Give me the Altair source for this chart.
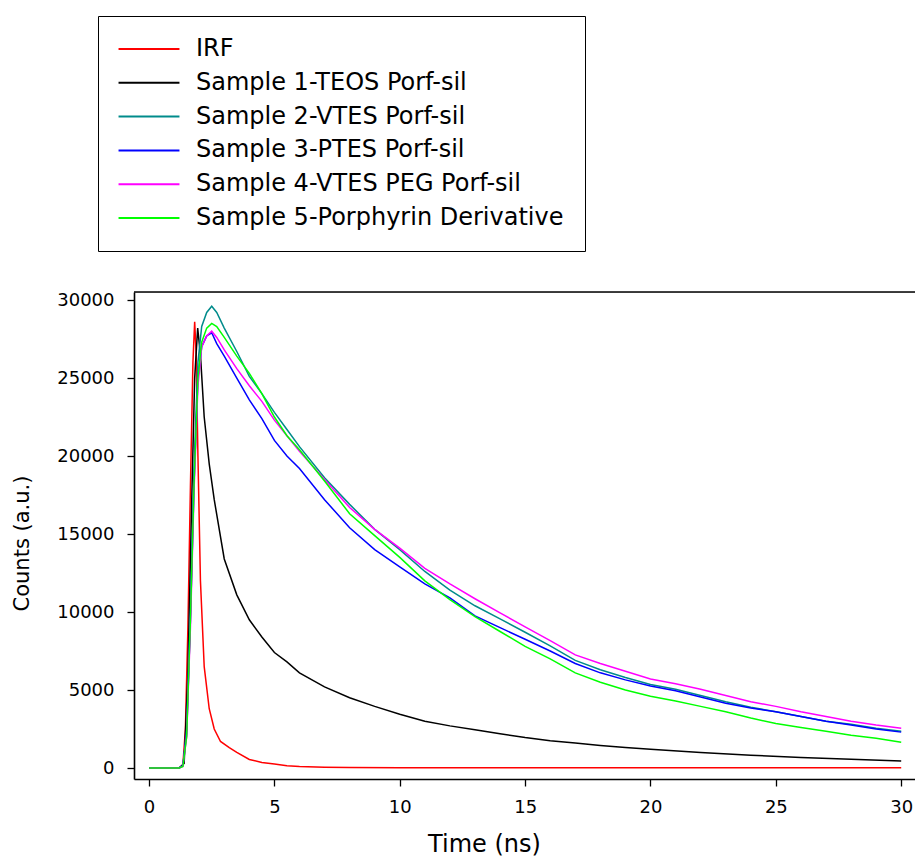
import altair as alt
import pandas as pd

series_names = [
    "IRF",
    "Sample 1-TEOS Porf-sil",
    "Sample 2-VTES Porf-sil",
    "Sample 3-PTES Porf-sil",
    "Sample 4-VTES PEG Porf-sil",
    "Sample 5-Porphyrin Derivative",
]
series_colors = ["#FF0000", "#000000", "#008B8B", "#0000FF", "#FF00FF", "#00FF00"]

irf_t = [0, 1.2, 1.35, 1.45, 1.55, 1.65, 1.75, 1.82, 1.88, 1.95, 2.05, 2.2, 2.4, 2.6,
         2.85, 3.2, 3.5, 4.0, 4.5, 5.0, 5.5, 6, 7, 8, 10, 15, 20, 25, 30]
irf_counts = [0, 0, 200, 2500, 9000, 18000, 26000, 28600, 26500, 20000, 12000, 6500, 3800, 2500,
              1700, 1300, 1000, 550, 350, 250, 150, 90, 50, 30, 20, 10, 10, 10, 10]

s1_t = [0, 1.2, 1.4, 1.55, 1.7, 1.82, 1.94, 2.05, 2.2, 2.4, 2.6, 3.0, 3.5, 4.0, 4.5, 5.0, 5.5,
        6, 7, 8, 9, 10, 11, 12, 13, 14, 15, 16, 17, 18, 19, 20, 22, 24, 26, 28, 30]
s1_counts = [0, 0, 300, 6000, 17000, 25000, 28200, 26500, 22500, 19500, 17200, 13400, 11100, 9500,
             8400, 7400, 6800, 6100, 5200, 4500, 3950, 3450, 3000, 2700, 2450, 2200, 1950, 1750,
             1600, 1450, 1320, 1200, 1000, 820, 680, 560, 450]

sample_t = [0, 1.2, 1.35, 1.5, 1.65, 1.8, 1.95, 2.1, 2.3, 2.5, 2.7, 3.0, 3.5, 4, 4.5, 5, 5.5, 6,
            7, 8, 9, 10, 11, 12, 13, 14, 15, 16, 17, 18, 19, 20, 21, 22, 23, 24, 25, 26, 27, 28,
            29, 30]
s2_counts = [0, 0, 150, 2500, 10000, 19500, 26000, 28300, 29200, 29600, 29200, 28200, 26700, 25100,
             24000, 22800, 21700, 20600, 18600, 16900, 15300, 14000, 12600, 11400, 10400, 9560,
             8700, 7830, 6900, 6300, 5800, 5350, 5050, 4650, 4250, 3900, 3600, 3300, 3000, 2800,
             2550, 2350]
s3_counts = [0, 0, 150, 2200, 9500, 18500, 25000, 27000, 27700, 27900, 27200, 26400, 25000, 23600,
             22400, 21000, 20000, 19200, 17200, 15400, 14000, 12900, 11800, 10900, 9750, 9000,
             8250, 7500, 6700, 6100, 5650, 5250, 4950, 4550, 4150, 3850, 3600, 3300, 3000, 2750,
             2500, 2300]
s4_counts = [0, 0, 100, 2000, 9000, 18000, 24500, 27000, 27700, 28000, 27600, 26800, 25600, 24500,
             23500, 22300, 21300, 20300, 18500, 16700, 15300, 14100, 12800, 11800, 10850, 9940,
             9050, 8160, 7250, 6700, 6200, 5700, 5400, 5050, 4650, 4250, 3950, 3600, 3300, 3000,
             2750, 2550]
s5_counts = [0, 0, 100, 2000, 9500, 18500, 25000, 27300, 28200, 28500, 28300, 27600, 26400, 25300,
             24000, 22500, 21300, 20400, 18400, 16300, 14900, 13500, 12000, 10800, 9700, 8750,
             7800, 7000, 6100, 5500, 5000, 4600, 4300, 3950, 3600, 3200, 2850, 2600, 2350, 2100,
             1900, 1650]

x_ticks = [0, 5, 10, 15, 20, 25, 30]
y_ticks = [0, 5000, 10000, 15000, 20000, 25000, 30000]

frames = []
pairs = [(irf_t, irf_counts), (s1_t, s1_counts), (sample_t, s2_counts),
         (sample_t, s3_counts), (sample_t, s4_counts), (sample_t, s5_counts)]
for i, (name, (ts, cs)) in enumerate(zip(series_names, pairs)):
    frames.append(pd.DataFrame({"t": ts, "counts": cs, "series": name, "k": i}))
df = pd.concat(frames, ignore_index=True)

FONT = "DejaVu Sans"

lines = alt.Chart(df).mark_line(strokeWidth=1.5, clip=True).encode(
    x=alt.X("t:Q",
            scale=alt.Scale(domain=[-0.6, 30.55], nice=False, zero=False),
            axis=alt.Axis(values=x_ticks, title="Time (ns)", grid=False, format="d",
                          domainColor="black", domainWidth=1.6,
                          tickColor="black", tickWidth=1.3, tickSize=7,
                          labelFont=FONT, labelFontSize=18, labelColor="black",
                          labelPadding=12, labelFlush=False,
                          titleFont=FONT, titleFontSize=24, titleFontWeight="normal",
                          titleColor="black", titleX=350, titleY=72,
                          titleAlign="center", titleBaseline="alphabetic")),
    y=alt.Y("counts:Q",
            scale=alt.Scale(domain=[-705, 30513], nice=False, zero=False),
            axis=alt.Axis(values=y_ticks, title="Counts (a.u.)", grid=False, format="d",
                          domainColor="black", domainWidth=1.6,
                          tickColor="black", tickWidth=1.3, tickSize=7,
                          labelFont=FONT, labelFontSize=18, labelColor="black",
                          labelPadding=13, labelFlush=False,
                          titleFont=FONT, titleFontSize=21, titleFontWeight="normal",
                          titleColor="black", titleX=-112, titleY=251,
                          titleAlign="center", titleBaseline="middle", titleAngle=270)),
    color=alt.Color("series:N",
                    scale=alt.Scale(domain=series_names, range=series_colors),
                    sort=series_names,
                    legend=alt.Legend(
                        title=None, orient="none", legendX=-36, legendY=-276,
                        direction="vertical", labelLimit=0,
                        symbolType="M-4,0H4", symbolSize=232, symbolStrokeWidth=2,
                        symbolOffset=18,
                        labelFont=FONT, labelFontSize=24, labelColor="black",
                        labelOffset=35, rowPadding=9.8, padding=21,
                        strokeColor="black", fillColor="white")),
    detail="series:N",
    order="t:Q",
)

top_rule = alt.Chart(pd.DataFrame({"v": [0]})).mark_rule(
    color="black", strokeWidth=1.6
).encode(x=alt.value(0), x2=alt.value(781), y=alt.value(0))

chart = alt.layer(lines, top_rule).properties(
    width=781, height=487,
    autosize=alt.AutoSizeParams(type="none"),
    padding={"left": 134, "top": 292, "right": 0, "bottom": 80},
).configure_view(stroke=None).configure(background="white")

chart.save("out.html", embed_options={"renderer": "svg", "actions": False})
